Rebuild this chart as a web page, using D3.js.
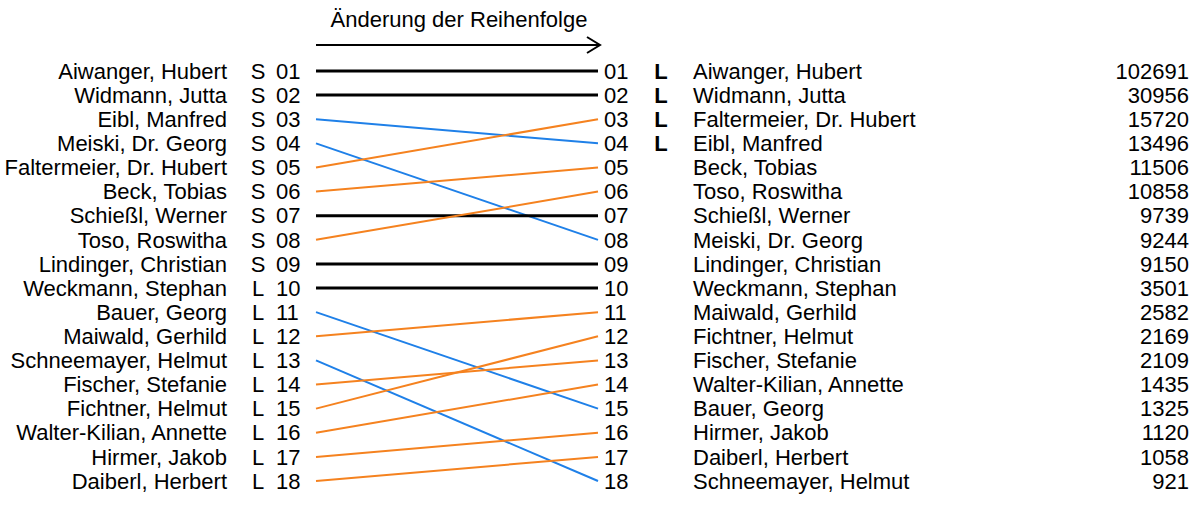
<!DOCTYPE html>
<html>
<head>
<meta charset="utf-8">
<script src="https://cdn.jsdelivr.net/npm/d3@7"></script>
<style>
  body { margin: 0; background: #fff; }
  text { font-family: "Liberation Sans", Arial, sans-serif; font-size: 22px; fill: #000; }
</style>
</head>
<body>
<div id="chart"></div>
<script>
const WIDTH = 1203;
const HEIGHT = 519;

const title = "Änderung der Reihenfolge";

// old order (left)
const oldNames = [
  "Aiwanger, Hubert", "Widmann, Jutta", "Eibl, Manfred", "Meiski, Dr. Georg",
  "Faltermeier, Dr. Hubert", "Beck, Tobias", "Schießl, Werner", "Toso, Roswitha",
  "Lindinger, Christian", "Weckmann, Stephan", "Bauer, Georg", "Maiwald, Gerhild",
  "Schneemayer, Helmut", "Fischer, Stefanie", "Fichtner, Helmut",
  "Walter-Kilian, Annette", "Hirmer, Jakob", "Daiberl, Herbert",
];
const oldLists = ["S", "S", "S", "S", "S", "S", "S", "S", "S",
  "L", "L", "L", "L", "L", "L", "L", "L", "L"];

// new order (right)
const newNames = [
  "Aiwanger, Hubert", "Widmann, Jutta", "Faltermeier, Dr. Hubert", "Eibl, Manfred",
  "Beck, Tobias", "Toso, Roswitha", "Schießl, Werner", "Meiski, Dr. Georg",
  "Lindinger, Christian", "Weckmann, Stephan", "Maiwald, Gerhild", "Fichtner, Helmut",
  "Fischer, Stefanie", "Walter-Kilian, Annette", "Bauer, Georg", "Hirmer, Jakob",
  "Daiberl, Herbert", "Schneemayer, Helmut",
];
const newLists = ["L", "L", "L", "L", "", "", "", "", "", "", "", "", "", "", "", "", "", ""];
const votes = [102691, 30956, 15720, 13496, 11506, 10858, 9739, 9244, 9150,
  3501, 2582, 2169, 2109, 1435, 1325, 1120, 1058, 921];

const ranks = d3.range(1, oldNames.length + 1);
const fmtRank = d3.format("02d");

const svg = d3
  .select("#chart")
  .append("svg")
  .attr("width", WIDTH)
  .attr("height", HEIGHT);

const y = d3.scaleLinear().domain([1, 18]).range([71, 481]);
const x = d3.scaleLinear().domain([0, 1]).range([316, 598]);

const COL = {
  NAME_L: 227,
  LIST_L: 258,
  RANK_L: 276,
  RANK_R: 604,
  LIST_R: 661,
  NAME_R: 693,
  VOTES: 1189,
};

// title + arrow
svg.append("text")
  .attr("x", (x(0) + x(1)) / 2 + 2)
  .attr("y", 19)
  .attr("dy", "0.35em")
  .attr("text-anchor", "middle")
  .text(title);

svg.append("line")
  .attr("x1", x(0)).attr("x2", x(1) + 2)
  .attr("y1", 45).attr("y2", 45)
  .style("stroke", "#000").style("stroke-width", 2);
svg.append("path")
  .attr("d", `M${x(1) - 11},37 L${x(1) + 2},45 L${x(1) - 11},53`)
  .style("fill", "none").style("stroke", "#000").style("stroke-width", 2);

// connecting lines
const links = oldNames.map((name, i) => {
  const from = i + 1;
  const to = newNames.indexOf(name) + 1;
  return { from, to };
});

const line = d3.line().x((d) => x(d[0])).y((d) => y(d[1]));

svg.selectAll(".link")
  .data(links)
  .enter()
  .append("path")
  .attr("class", "link")
  .attr("d", (d) => line([[0, d.from], [1, d.to]]))
  .style("fill", "none")
  .style("stroke", (d) => d.from === d.to ? "#000" : (d.to > d.from ? "#1f80e8" : "#f5821f"))
  .style("stroke-width", (d) => d.from === d.to ? 3 : 2);

// left column
const left = svg.selectAll(".left").data(ranks).enter().append("g").attr("class", "left");
left.append("text")
  .attr("x", COL.NAME_L).attr("y", (d) => y(d)).attr("dy", "0.35em")
  .attr("text-anchor", "end")
  .text((d) => oldNames[d - 1]);
left.append("text")
  .attr("x", COL.LIST_L).attr("y", (d) => y(d)).attr("dy", "0.35em")
  .attr("text-anchor", "middle")
  .text((d) => oldLists[d - 1]);
left.append("text")
  .attr("x", COL.RANK_L).attr("y", (d) => y(d)).attr("dy", "0.35em")
  .text((d) => fmtRank(d));

// right column
const right = svg.selectAll(".right").data(ranks).enter().append("g").attr("class", "right");
right.append("text")
  .attr("x", COL.RANK_R).attr("y", (d) => y(d)).attr("dy", "0.35em")
  .text((d) => fmtRank(d));
right.append("text")
  .attr("x", COL.LIST_R).attr("y", (d) => y(d)).attr("dy", "0.35em")
  .attr("text-anchor", "middle")
  .style("font-weight", "bold")
  .text((d) => newLists[d - 1]);
right.append("text")
  .attr("x", COL.NAME_R).attr("y", (d) => y(d)).attr("dy", "0.35em")
  .text((d) => newNames[d - 1]);
right.append("text")
  .attr("x", COL.VOTES).attr("y", (d) => y(d)).attr("dy", "0.35em")
  .attr("text-anchor", "end")
  .text((d) => votes[d - 1]);
</script>
</body>
</html>
